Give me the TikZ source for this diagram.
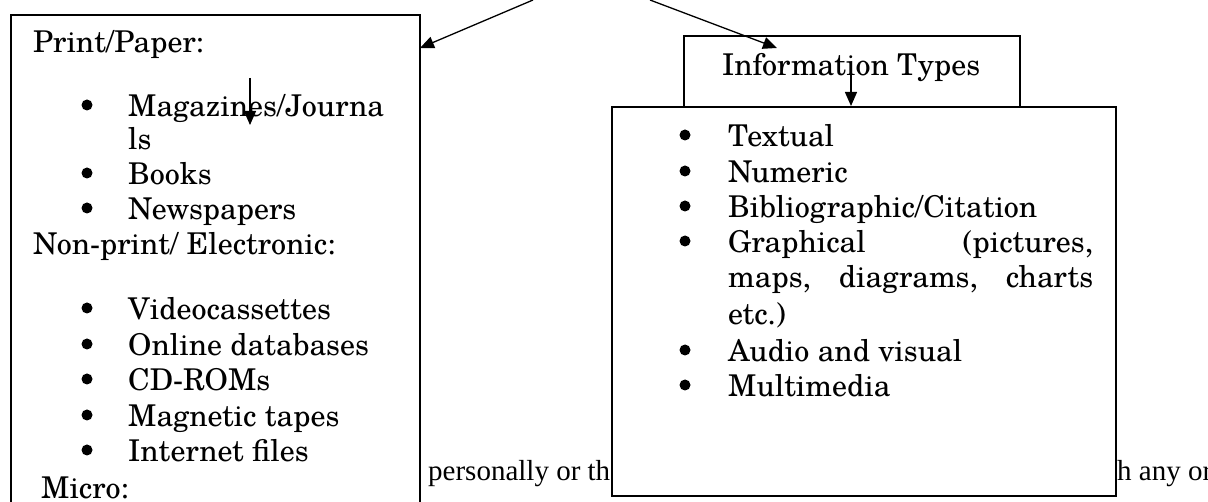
\documentclass[tikz,border=0pt]{standalone}
\usepackage{fontspec}
\setmainfont{texgyreschola-regular.otf}
\newfontfamily\tnr{Liberation Serif}
\usetikzlibrary{arrows.meta}
\begin{document}
\begin{tikzpicture}[x=1pt,y=-1pt,
  box/.style={draw, line width=1.6pt, fill=white, inner sep=0pt, anchor=north west},
  txt/.style={anchor=base west, inner sep=0pt, font=\fontsize{30}{36}\selectfont},
  btxt/.style={anchor=base west, inner sep=0pt, font=\tnr\fontsize{29}{34}\selectfont},
  bul/.style={circle, fill=black, inner sep=0pt, minimum size=11pt},
  arr/.style={-{Triangle[length=14pt,width=12pt]}, line width=1.3pt}]
\useasboundingbox (0,0) rectangle (1208,502);
\clip (0,0) rectangle (1208,502);
\fill[white] (0,0) rectangle (1208,502);

% background running text (partly hidden)
\node[btxt] (bt1) at (428,480) {personally or th};
\node[btxt] (bt2) at (1117,480) {h any or};

% left box
\node[box, minimum width=409pt, minimum height=520pt] (media) at (10,14) {};
\node[txt] (pp) at (33,53) {Print/Paper:};
\node[txt] (l1) at (128,117) {Magazines/Journa};
\node[txt] (l1b) at (128,150) {ls};
\node[txt] (l2) at (128,185) {Books};
\node[txt] (l3) at (128,220) {Newspapers};
\node[txt] (np) at (33,255) {Non-print/ Electronic:};
\node[txt] (l4) at (128,320) {Videocassettes};
\node[txt] (l5) at (128,356) {Online databases};
\node[txt] (l6) at (128,391) {CD-ROMs};
\node[txt] (l7) at (128,427) {Magnetic tapes};
\node[txt] (l8) at (128,462) {Internet files};
\node[txt] (mc) at (41,498) {Micro:};
\foreach \y/\n in {117/1,185/2,220/3,320/4,356/5,391/6,427/7,462/8}
  \node[bul] (lb\n) at (87,\y-12) {};

% information types box
\node[box, minimum width=336pt, minimum height=71pt] (itype) at (683,35) {};
\node[txt] (ittl) at (722,76) {Information Types};

% lower box
\node[box, minimum width=504pt, minimum height=389pt] (tlist) at (611,106) {};
\node[txt] (r1) at (728,147) {Textual};
\node[txt] (r2) at (728,183) {Numeric};
\node[txt] (r3) at (728,218) {Bibliographic/Citation};
\node[txt] (r4) at (728,253) {\makebox[365pt][s]{Graphical\hfill(pictures,}};
\node[txt] (r4b) at (728,288) {\makebox[365pt][s]{maps,\hfill diagrams,\hfill charts}};
\node[txt] (r4c) at (728,325) {etc.)};
\node[txt] (r5) at (728,362) {Audio and visual};
\node[txt] (r6) at (728,397) {Multimedia};
\foreach \y/\n in {147/1,183/2,218/3,253/4,362/5,397/6}
  \node[bul] (rb\n) at (685,\y-12) {};

% connectors
\coordinate (src1) at (533,0);
\coordinate (src2) at (650,0);
\coordinate (tip1) at (420,48);
\coordinate (tip2) at (777,48);
\draw[arr] (src1) -- (tip1);
\draw[arr] (src2) -- (tip2);
\coordinate (a3s) at (851,63);
\draw[arr] (a3s) -- (a3s |- tlist.north);
\coordinate (a4s) at (250,78);
\coordinate (a4e) at (250,125);
\draw[arr] (a4s) -- (a4e);
\end{tikzpicture}
\end{document}
